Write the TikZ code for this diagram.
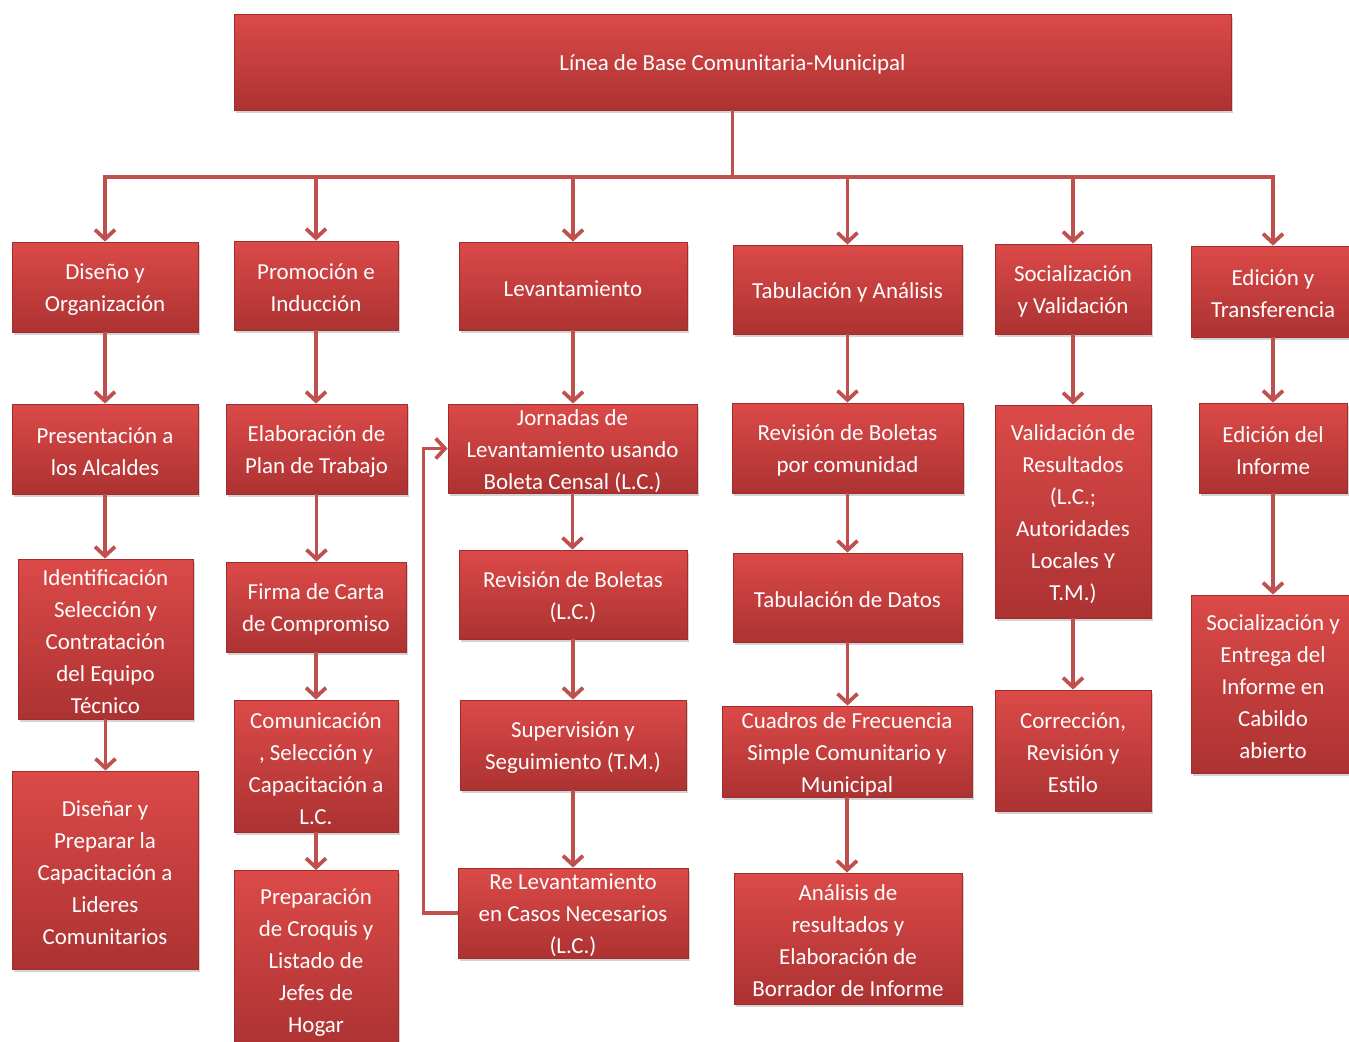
\documentclass[tikz,border=0pt]{standalone}
\usepackage{fontspec}
\setmainfont{Carlito}
\usetikzlibrary{arrows.meta,shadows}
\definecolor{boxtop}{RGB}{219,74,72}
\definecolor{boxbot}{RGB}{172,50,50}
\definecolor{boxedge}{RGB}{160,44,44}
\definecolor{connc}{RGB}{192,80,77}
\tikzset{
  box/.style={rectangle, top color=boxtop, bottom color=boxbot, draw=boxedge, line width=0.6pt, inner sep=0pt,
    drop shadow={shadow xshift=1.8pt, shadow yshift=-2.2pt, opacity=0.35}},
  txt/.style={text=white, align=center, inner sep=0pt, yshift=-1.8pt, font=\fontsize{17.2}{24}\selectfont},
  link/.style={draw=connc, line width=2.8pt, -{Straight Barb[length=7pt,width=15pt]}},
}
\newcommand\bx[6]{%
  \node[box, minimum width=#4*0.75pt, minimum height=#5*0.75pt] (#1) at (#2,#3) {};
  \node[txt] at (#1.center) {#6};}
\begin{document}
\begin{tikzpicture}[x=0.75pt,y=-0.75pt]
\useasboundingbox (0,0) rectangle (1349,1042);
\begin{scope}
\clip (0,0) rectangle (1349,1042);
\bx{top}{732.5}{62}{997}{96}{Línea de Base Comunitaria-Municipal}
% row 1
\bx{A1}{105}{287}{186}{90}{Diseño y\\Organización}
\bx{B1}{316}{285.5}{164}{89}{Promoción e\\Inducción}
\bx{C1}{573}{286}{228}{88}{Levantamiento}
\bx{D1}{847.5}{289.5}{229}{89}{Tabulación y Análisis}
\bx{E1}{1073}{289}{156}{90}{Socialización\\y Validación}
\bx{F1}{1273}{291.5}{164}{91}{Edición y\\Transferencia}
% row 2
\bx{A2}{105}{449}{186}{90}{Presentación a\\los Alcaldes}
\bx{B2}{316.5}{449}{181}{90}{Elaboración de\\Plan de Trabajo}
\bx{C2}{572.5}{448.5}{249}{89}{Jornadas de\\Levantamiento usando\\Boleta Censal (L.C.)}
\bx{D2}{847.5}{448}{231}{90}{Revisión de Boletas\\por comunidad}
\bx{E2}{1073}{511.5}{156}{213}{Validación de\\Resultados\\(L.C.;\\Autoridades\\Locales Y\\T.M.)}
\bx{F2}{1273}{448}{148}{90}{Edición del\\Informe}
% row 3
\bx{A3}{105.5}{639}{175}{160}{Identificación\\Selección y\\Contratación\\del Equipo\\Técnico}
\bx{B3}{316}{607}{180}{90}{Firma de Carta\\de Compromiso}
\bx{C3}{573}{594.5}{228}{89}{Revisión de Boletas\\(L.C.)}
\bx{D3}{847.5}{597.5}{229}{89}{Tabulación de Datos}
\bx{E3}{1073}{750.5}{156}{121}{Corrección,\\Revisión y\\Estilo}
\bx{F3}{1273}{684}{164}{178}{Socialización y\\Entrega del\\Informe en\\Cabildo\\abierto}
% row 4
\bx{A4}{105}{870}{186}{198}{Diseñar y\\Preparar la\\Capacitación a\\Lideres\\Comunitarios}
\bx{B4}{316}{766}{164}{132}{Comunicación\\, Selección y\\Capacitación a\\L.C.}
\bx{C4}{573}{745}{226}{90}{Supervisión y\\Seguimiento (T.M.)}
\bx{D4}{847}{751.5}{250}{91}{Cuadros de Frecuencia\\Simple Comunitario y\\Municipal}
% row 5
\bx{B5}{316}{960}{164}{179}{Preparación\\de Croquis y\\Listado de\\Jefes de\\Hogar}
\bx{C5}{573}{913}{230}{90}{Re Levantamiento\\en Casos Necesarios\\(L.C.)}
\bx{D5}{848}{938.5}{228}{131}{Análisis de\\resultados y\\Elaboración de\\Borrador de Informe}
% top distribution
\coordinate (bus) at (732.5,177);
\foreach \n in {A1,B1,C1,D1,E1,F1}
  \draw[link] (top.south) -- (bus) -| (\n.north);
% columns
\foreach \a/\b in {A1/A2,A2/A3,A3/A4,B1/B2,B2/B3,B3/B4,B4/B5,C1/C2,C2/C3,C3/C4,C4/C5,D1/D2,D2/D3,D3/D4,D4/D5,E1/E2,E2/E3,F1/F2,F2/F3}
  \draw[link] (\a.south) -- (\a.south |- \b.north);
% feedback
\draw[link] (C5.west) -- ++(-34,0) |- (C2.west);
\end{scope}
\end{tikzpicture}
\end{document}
